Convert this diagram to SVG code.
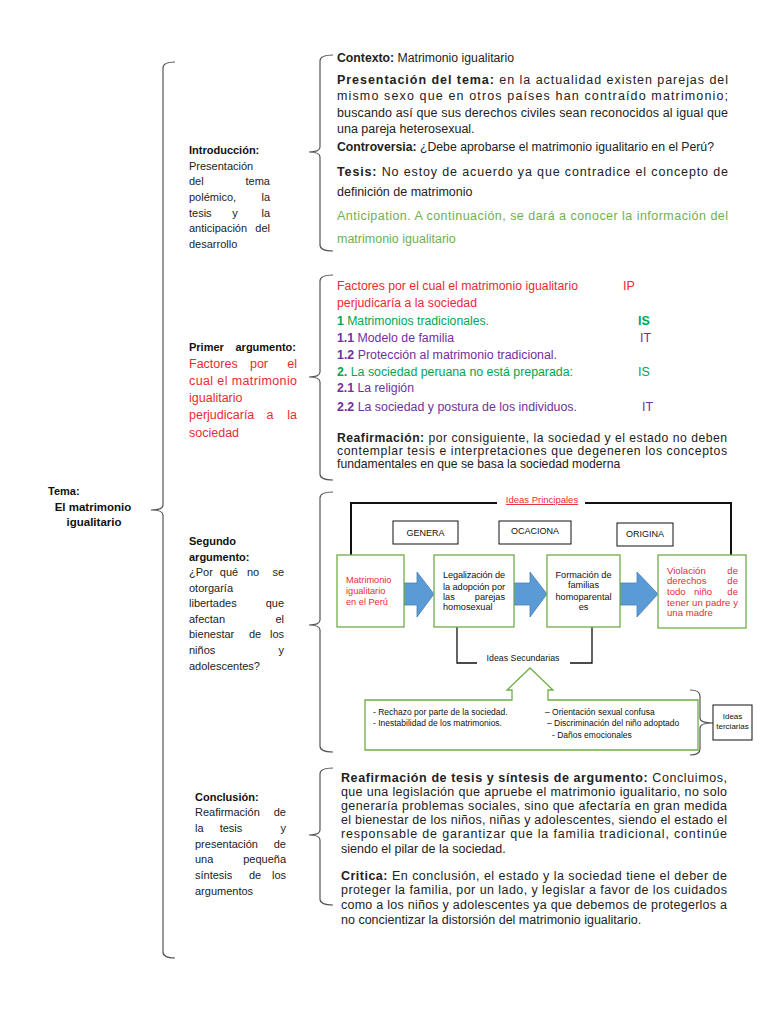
<svg xmlns="http://www.w3.org/2000/svg" width="768" height="1024" viewBox="0 0 768 1024">
<style>
text{font-family:"Liberation Sans",Arial,sans-serif;fill:#222}
.b{font-weight:bold}
.r,.r text{fill:#ea2a33}
.g1{fill:#6fb04f}
.g2,.g2 tspan{fill:#00a651}
.p,.p tspan{fill:#7030a0}
.k,.k text{fill:#111}
.f125{font-size:12.5px}
.f12{font-size:12.2px}
.f11{font-size:11px}
.brace{fill:none;stroke:#555;stroke-width:1.2}
.blk{fill:none;stroke:#111;stroke-width:1.3}
.box{fill:#fff;stroke:#111;stroke-width:1}
.node{fill:#fff;stroke:#70ad47;stroke-width:1.3}
.arr{fill:#5b9bd5;stroke:#4a7fb5;stroke-width:0.8}
.d9{font-size:9.2px}
.d85{font-size:8.5px}
</style>
<rect width="768" height="1024" fill="#fff"/>

<g id="braces">
<path class="brace" d="M175,62 Q163,62 163,68 V505 Q163,510 151,510 Q163,510 163,515 V952 Q163,958 175,958"/>
<path class="brace" d="M333,55 Q320,55 320,61 V147 Q320,152 309,152 Q320,152 320,157 V245 Q320,251 333,251"/>
<path class="brace" d="M333,275 Q320,275 320,281 V372 Q320,377 309,377 Q320,377 320,382 V474 Q320,480 333,480"/>
<path class="brace" d="M333,492 Q320,492 320,498 V620 Q320,625 309,625 Q320,625 320,630 V746 Q320,752 333,752"/>
<path class="brace" d="M333,768 Q320,768 320,774 V830 Q320,835 309,835 Q320,835 320,840 V899 Q320,905 333,905"/>
</g>

<g id="tema" class="k">
<text class="b f11" x="48" y="495">Tema:</text>
<text class="b" font-size="11.5" x="93" y="511" text-anchor="middle">El matrimonio</text>
<text class="b" font-size="11.5" x="94" y="526" text-anchor="middle">igualitario</text>
</g>

<g id="label-intro" class="f11">
<text class="b k" x="189" y="154">Introducción:</text>
<text x="189" y="170">Presentación</text>
<text x="189" y="185">del</text><text x="270" y="185" text-anchor="end">tema</text>
<text x="189" y="201">polémico,</text><text x="270" y="201" text-anchor="end">la</text>
<text x="189" y="217">tesis</text><text x="235" y="217" text-anchor="middle">y</text><text x="270" y="217" text-anchor="end">la</text>
<text x="189" y="232">anticipación</text><text x="270" y="232" text-anchor="end">del</text>
<text x="189" y="248">desarrollo</text>
</g>

<g id="label-primer">
<text class="b k f11" x="189" y="351">Primer</text><text class="b k f11" x="296" y="351" text-anchor="end">argumento:</text>
<g class="r f125">
<text x="189" y="368">Factores</text><text x="259" y="368" text-anchor="middle">por</text><text x="297" y="368" text-anchor="end">el</text>
<text x="189" y="385" textLength="108" lengthAdjust="spacing">cual el matrimonio</text>
<text x="189" y="402">igualitario</text>
<text x="189" y="419">perjudicaría</text><text x="270" y="419" text-anchor="middle">a</text><text x="297" y="419" text-anchor="end">la</text>
<text x="189" y="437">sociedad</text>
</g>
</g>

<g id="label-segundo" class="f11">
<text class="b k" x="189" y="545">Segundo</text>
<text class="b k" x="189" y="561">argumento:</text>
<text x="189" y="576">¿Por</text><text x="229" y="576" text-anchor="middle">qué</text><text x="253" y="576" text-anchor="middle">no</text><text x="284" y="576" text-anchor="end">se</text>
<text x="189" y="592">otorgaría</text>
<text x="189" y="607">libertades</text><text x="284" y="607" text-anchor="end">que</text>
<text x="189" y="623">afectan</text><text x="284" y="623" text-anchor="end">el</text>
<text x="189" y="638">bienestar</text><text x="255" y="638" text-anchor="middle">de</text><text x="284" y="638" text-anchor="end">los</text>
<text x="189" y="654">niños</text><text x="284" y="654" text-anchor="end">y</text>
<text x="189" y="670">adolescentes?</text>
</g>

<g id="label-conclusion" class="f11">
<text class="b k" x="195" y="801">Conclusión:</text>
<text x="195" y="816">Reafirmación</text><text x="286" y="816" text-anchor="end">de</text>
<text x="195" y="832">la</text><text x="231" y="832" text-anchor="middle">tesis</text><text x="286" y="832" text-anchor="end">y</text>
<text x="195" y="848">presentación</text><text x="286" y="848" text-anchor="end">de</text>
<text x="195" y="863">una</text><text x="286" y="863" text-anchor="end">pequeña</text>
<text x="195" y="879">síntesis</text><text x="255" y="879" text-anchor="middle">de</text><text x="286" y="879" text-anchor="end">los</text>
<text x="195" y="895">argumentos</text>
</g>

<g id="intro-text" class="f125">
<text x="337" y="61.5" textLength="177" lengthAdjust="spacingAndGlyphs"><tspan class="b">Contexto:</tspan> Matrimonio igualitario</text>
<text x="337" y="83.5" textLength="391" lengthAdjust="spacing"><tspan class="b">Presentación del tema:</tspan> en la actualidad existen parejas del</text>
<text x="337" y="99.5" textLength="391" lengthAdjust="spacing">mismo sexo que en otros países han contraído matrimonio;</text>
<text x="337" y="116.5" textLength="391" lengthAdjust="spacing">buscando así que sus derechos civiles sean reconocidos al igual que</text>
<text x="337" y="132.5">una pareja heterosexual.</text>
<text x="337" y="150.5" textLength="377" lengthAdjust="spacingAndGlyphs"><tspan class="b">Controversia:</tspan> ¿Debe aprobarse el matrimonio igualitario en el Perú?</text>
<text x="337" y="175.5" textLength="391" lengthAdjust="spacing"><tspan class="b">Tesis:</tspan> No estoy de acuerdo ya que contradice el concepto de</text>
<text x="337" y="195.5">definición de matrimonio</text>
<text class="g1" x="337" y="219.5" textLength="391" lengthAdjust="spacing">Anticipation. A continuación, se dará a conocer la información del</text>
<text class="g1" x="337" y="242.5">matrimonio igualitario</text>
</g>

<g id="primer-text" class="f125">
<text class="r" x="337" y="290" textLength="241" lengthAdjust="spacingAndGlyphs">Factores por el cual el matrimonio igualitario</text>
<text class="r" x="623" y="290">IP</text>
<text class="r" x="337" y="307" textLength="140" lengthAdjust="spacingAndGlyphs">perjudicaría a la sociedad</text>
<text class="g2" x="337" y="324.5" textLength="152" lengthAdjust="spacingAndGlyphs"><tspan class="b">1</tspan> Matrimonios tradicionales.</text>
<text class="g2 b" x="638" y="324.5">IS</text>
<text class="p" x="337" y="341.5" textLength="117" lengthAdjust="spacingAndGlyphs"><tspan class="b">1.1</tspan> Modelo de familia</text>
<text class="p" x="640" y="341.5">IT</text>
<text class="p" x="337" y="358.5" textLength="220" lengthAdjust="spacingAndGlyphs"><tspan class="b">1.2</tspan> Protección al matrimonio tradicional.</text>
<text class="g2" x="337" y="376" textLength="236" lengthAdjust="spacingAndGlyphs"><tspan class="b">2.</tspan> La sociedad peruana no está preparada:</text>
<text class="g2" x="638" y="376">IS</text>
<text class="p" x="337" y="392" textLength="77" lengthAdjust="spacingAndGlyphs"><tspan class="b">2.1</tspan> La religión</text>
<text class="p" x="337" y="410.5" textLength="240" lengthAdjust="spacingAndGlyphs"><tspan class="b">2.2</tspan> La sociedad y postura de los individuos.</text>
<text class="p" x="642" y="410.5">IT</text>
<g class="f12">
<text x="337" y="441.5" textLength="390" lengthAdjust="spacing"><tspan class="b">Reafirmación:</tspan> por consiguiente, la sociedad y el estado no deben</text>
<text x="337" y="455" textLength="390" lengthAdjust="spacing">contemplar tesis e interpretaciones que degeneren los conceptos</text>
<text x="337" y="468">fundamentales en que se basa la sociedad moderna</text>
</g>
</g>

<g id="connectors">
<path d="M351,555 V503 H497 M585,503 H731 V555" fill="none" stroke="#111" stroke-width="2"/>
<path class="blk" d="M457,627 V663 H477 M570,663 H592 V627"/>
<path class="brace" d="M690,690 Q700,690 700,696 V718 Q700,723 713,723 Q700,723 700,728 V749 Q700,755 690,755"/>
<path class="arr" d="M404,583 H417 V572 L434,594 L417,617 V605 H404 Z"/>
<path class="arr" d="M514,583 H530 V572 L547,594 L530,617 V605 H514 Z"/>
<path class="arr" d="M620,583 H637 V572 L658,594 L637,617 V605 H620 Z"/>
</g>

<g id="ideas-principales">
<text class="r" font-size="9.5" x="542" y="503" text-anchor="middle" text-decoration="underline">Ideas Principales</text>
</g>

<g id="genera"><rect class="box" x="393" y="521" width="65" height="23"/><text class="k" font-size="9" x="425.5" y="536" text-anchor="middle">GENERA</text></g>
<g id="ocaciona"><rect class="box" x="499" y="521" width="72" height="23"/><text class="k" font-size="9" x="535" y="534" text-anchor="middle">OCACIONA</text></g>
<g id="origina"><rect class="box" x="617" y="523" width="56" height="23"/><text class="k" font-size="9" x="645" y="537" text-anchor="middle">ORIGINA</text></g>

<g id="node1">
<rect class="node" x="337" y="555" width="67" height="72"/>
<g class="r d9">
<text x="346" y="583">Matrimonio</text>
<text x="346" y="594">igualitario</text>
<text x="346" y="605">en el Perú</text>
</g>
</g>

<g id="node2">
<rect class="node" x="434" y="555" width="80" height="72"/>
<g class="k d9">
<text x="443" y="578" textLength="62" lengthAdjust="spacing">Legalización de</text>
<text x="443" y="590" textLength="62" lengthAdjust="spacing">la adopción por</text>
<text x="443" y="600">las</text><text x="505" y="600" text-anchor="end">parejas</text>
<text x="443" y="610">homosexual</text>
</g>
</g>

<g id="node3">
<rect class="node" x="547" y="555" width="73" height="72"/>
<g class="k d9" text-anchor="middle">
<text x="583.5" y="578">Formación de</text>
<text x="583.5" y="588">familias</text>
<text x="583.5" y="600">homoparental</text>
<text x="583.5" y="610">es</text>
</g>
</g>

<g id="node4">
<rect class="node" x="658" y="555" width="88" height="73"/>
<g class="r" font-size="9.6">
<text x="667" y="574">Violación</text><text x="738" y="574" text-anchor="end">de</text>
<text x="667" y="584">derechos</text><text x="738" y="584" text-anchor="end">de</text>
<text x="667" y="595">todo</text><text x="703" y="595" text-anchor="middle">niño</text><text x="738" y="595" text-anchor="end">de</text>
<text x="667" y="606" textLength="71" lengthAdjust="spacing">tener un padre y</text>
<text x="667" y="616">una madre</text>
</g>
</g>

<g id="ideas-secundarias">
<text class="k" font-size="8.8" x="523" y="661" text-anchor="middle">Ideas Secundarias</text>
</g>

<g id="secundarias-list">
<path class="node" d="M365,700 H512 V690 H507 L530,668 L553,690 H548 V700 H698 V750 H365 Z"/>
<g class="k d85">
<text x="373" y="715">- Rechazo por parte de la sociedad.</text>
<text x="373" y="726">- Inestabilidad de los matrimonios.</text>
<text x="545" y="715">– Orientación sexual confusa</text>
<text x="547" y="726">– Discriminación del niño adoptado</text>
<text x="552" y="738">- Daños emocionales</text>
</g>
</g>

<g id="ideas-terciarias">
<rect class="box" x="713" y="705" width="39" height="35"/>
<text class="k" font-size="8" x="732.5" y="719" text-anchor="middle">Ideas</text>
<text class="k" font-size="8" x="732.5" y="729" text-anchor="middle">terciarias</text>
</g>

<g id="conclusion-text" class="f125">
<text x="341" y="782" textLength="386" lengthAdjust="spacing"><tspan class="b">Reafirmación de tesis y síntesis de argumento:</tspan> Concluimos,</text>
<text x="341" y="796" textLength="386" lengthAdjust="spacing">que una legislación que apruebe el matrimonio igualitario, no solo</text>
<text x="341" y="810" textLength="386" lengthAdjust="spacing">generaría problemas sociales, sino que afectaría en gran medida</text>
<text x="341" y="824" textLength="386" lengthAdjust="spacing">el bienestar de los niños, niñas y adolescentes, siendo el estado el</text>
<text x="341" y="838" textLength="386" lengthAdjust="spacing">responsable de garantizar que la familia tradicional, continúe</text>
<text x="341" y="853">siendo el pilar de la sociedad.</text>
<text x="341" y="880" textLength="386" lengthAdjust="spacing"><tspan class="b">Critica:</tspan> En conclusión, el estado y la sociedad tiene el deber de</text>
<text x="341" y="894" textLength="386" lengthAdjust="spacing">proteger la familia, por un lado, y legislar a favor de los cuidados</text>
<text x="341" y="909" textLength="386" lengthAdjust="spacing">como a los niños y adolescentes ya que debemos de protegerlos a</text>
<text x="341" y="924">no concientizar la distorsión del matrimonio igualitario.</text>
</g>
</svg>
